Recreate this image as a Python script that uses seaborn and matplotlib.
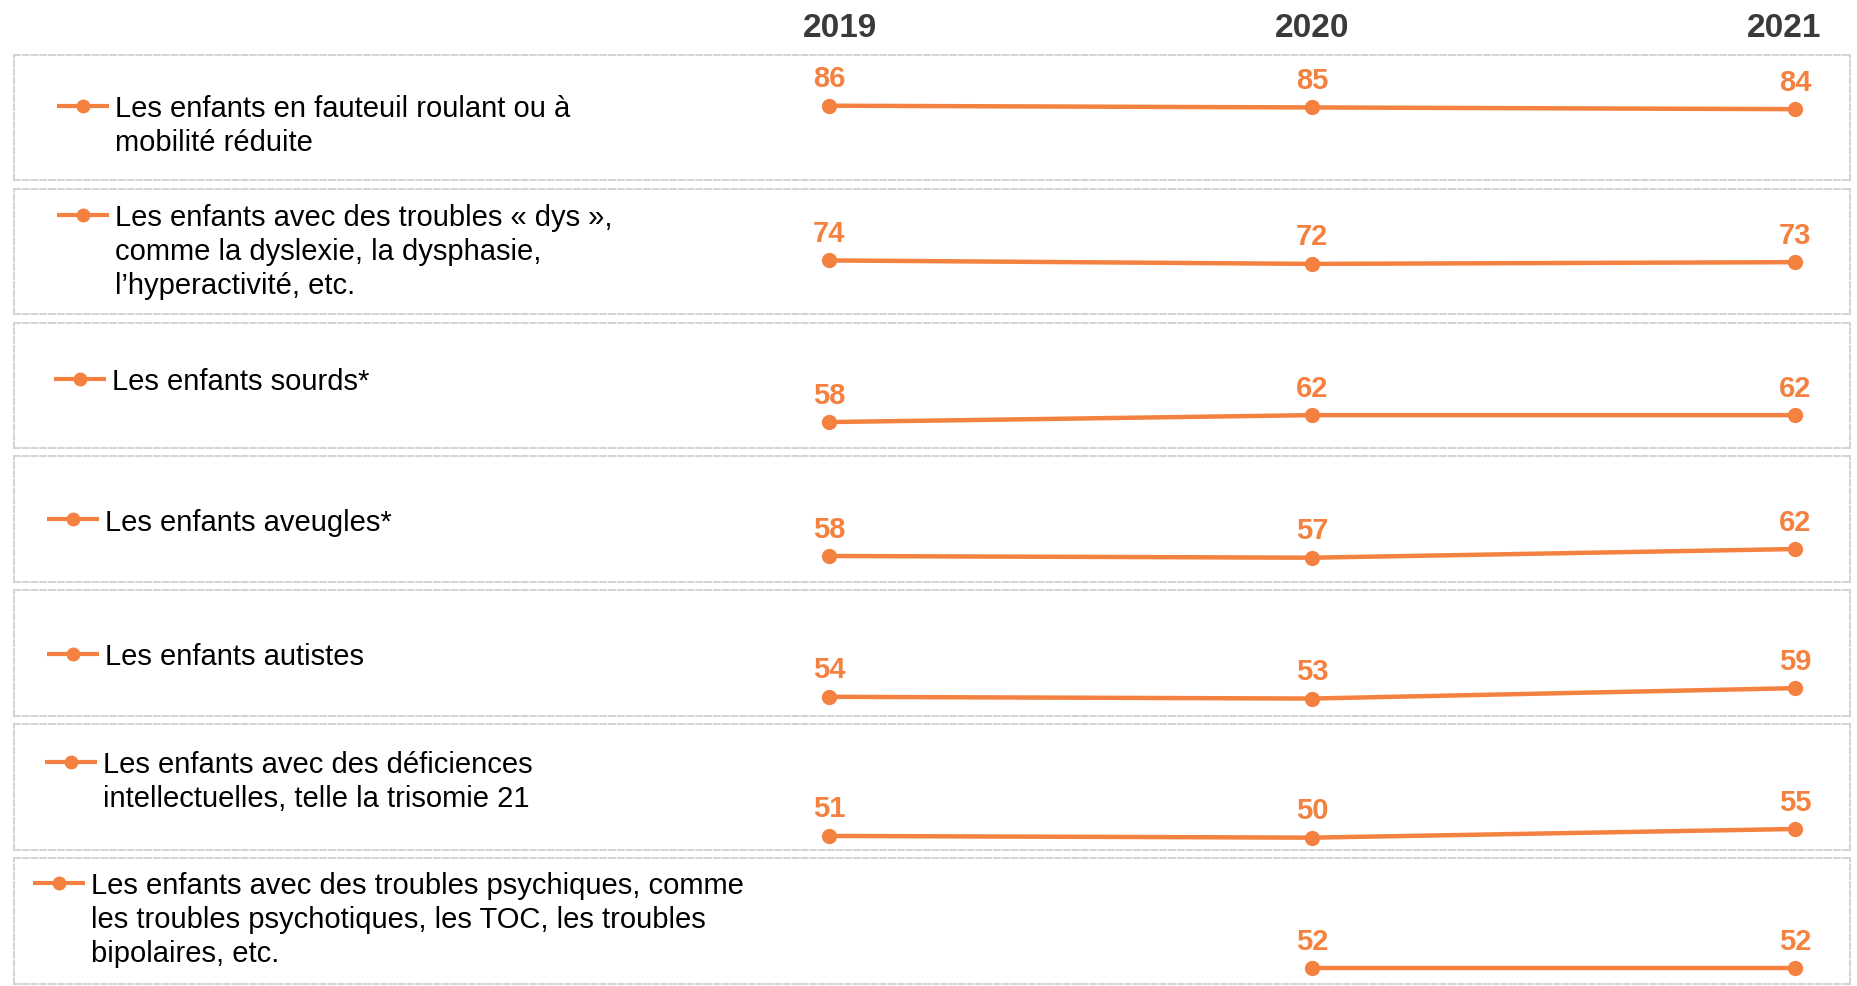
import numpy as np
import pandas as pd
import seaborn as sns
import matplotlib.pyplot as plt

# Données
years = [2019, 2020, 2021]
categories = [
    "Les enfants en fauteuil roulant ou à\nmobilité réduite",
    "Les enfants avec des troubles « dys »,\ncomme la dyslexie, la dysphasie,\nl’hyperactivité, etc.",
    "Les enfants sourds*",
    "Les enfants aveugles*",
    "Les enfants autistes",
    "Les enfants avec des déficiences\nintellectuelles, telle la trisomie 21",
    "Les enfants avec des troubles psychiques, comme\nles troubles psychotiques, les TOC, les troubles\nbipolaires, etc.",
]
fauteuil = [86, 85, 84]
dys = [74, 72, 73]
sourds = [58, 62, 62]
aveugles = [58, 57, 62]
autistes = [54, 53, 59]
deficiences = [51, 50, 55]
psychiques = [np.nan, 52, 52]
series = [fauteuil, dys, sourds, aveugles, autistes, deficiences, psychiques]

rows = []
for cat, vals in zip(categories, series):
    for y, v in zip(years, vals):
        rows.append({"categorie": cat, "annee": y, "valeur": v})
df = pd.DataFrame(rows)

# Mise en page (pixels)
W, H = 1857, 987
row_top0, row_step, row_h = 55.7, 133.9, 125.6
ax_left, ax_w = 14, 1836
legend_x = [57, 57, 54, 47, 47, 45, 33]
legend_y = [51, 26, 56, 63, 64, 38, 25]

orange = "#F4813F"
sns.set_theme(style="white")
plt.rcParams["font.family"] = ["Liberation Sans", "DejaVu Sans"]

fig = plt.figure(figsize=(W / 100, H / 100), dpi=100)

for i, cat in enumerate(categories):
    top = row_top0 + i * row_step
    ax = fig.add_axes([ax_left / W, 1 - (top + row_h) / H, ax_w / W, row_h / H])
    sub = df[df["categorie"] == cat].dropna()
    sns.lineplot(data=sub, x="annee", y="valeur", ax=ax, color=orange, lw=3.2,
                 marker="o", markersize=11, markeredgewidth=0, legend=False)
    ax.set_xlim(2017.313, 2021.114)
    ax.set_ylim(43, 115.4)
    ax.set_xticks([])
    ax.set_yticks([])
    ax.set_xlabel("")
    ax.set_ylabel("")
    for sp in ax.spines.values():
        sp.set_visible(True)
        sp.set_color("#d3d3d3")
        sp.set_linewidth(1.4)
        sp.set_linestyle((0, (3, 1.5)))

    # étiquettes de valeurs
    for _, r in sub.iterrows():
        ax.annotate(f"{int(r['valeur'])}", (r["annee"], r["valeur"]),
                    xytext=(0, 14), textcoords="offset points",
                    ha="center", va="baseline", fontsize=21,
                    fontweight="bold", color=orange)

    # légende
    lx0 = (legend_x[i] - ax_left) / ax_w
    lx1 = (legend_x[i] + 52 - ax_left) / ax_w
    ly = 1 - legend_y[i] / row_h
    ax.plot([lx0, lx1], [ly, ly], color=orange, lw=3, transform=ax.transAxes,
            solid_capstyle="butt")
    ax.plot([(lx0 + lx1) / 2], [ly], "o", color=orange, markersize=10,
            markeredgewidth=0, transform=ax.transAxes)
    ax.annotate(cat, ((legend_x[i] + 58 - ax_left) / ax_w, ly),
                xycoords="axes fraction", xytext=(0, 8.5),
                textcoords="offset points", ha="left", va="top",
                fontsize=21, color="black", linespacing=1.27)

    if i == 0:
        for y, dx in zip(years, [8, 0, -8]):
            ax.annotate(str(y), (y, 1), xycoords=("data", "axes fraction"),
                        xytext=(dx, 19.5), textcoords="offset points",
                        ha="center", va="center", fontsize=24,
                        fontweight="bold", color="#3a3a3a")

plt.savefig("out.png", dpi=100)
